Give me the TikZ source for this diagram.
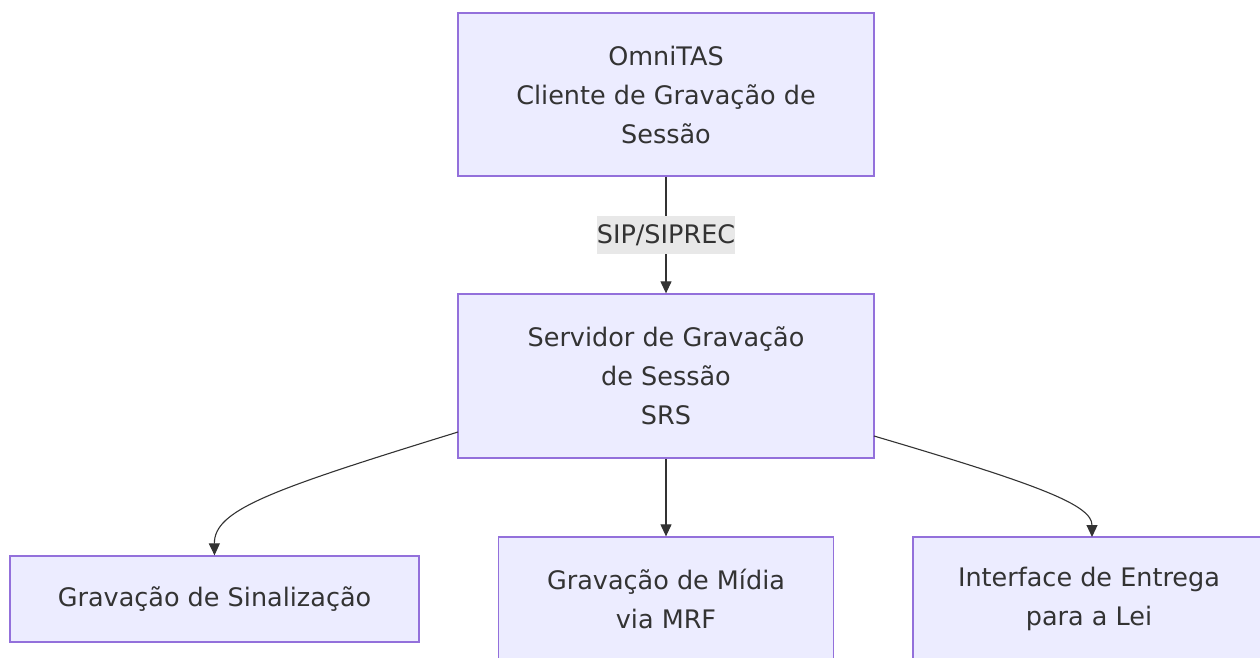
\documentclass[tikz,border=0pt]{standalone}
\usepackage{fontspec}
\setmainfont{DejaVu Sans}
\usetikzlibrary{arrows.meta}
\definecolor{boxfill}{HTML}{ECECFF}
\definecolor{boxline}{HTML}{9370DB}
\definecolor{txt}{HTML}{333333}
\definecolor{lblbg}{HTML}{E8E8E8}
\begin{document}
\begin{tikzpicture}[x=1pt,y=-1pt,
  procbox/.style={draw=boxline,fill=boxfill,line width=1.3pt,inner sep=0pt,text=txt,align=center,
    font=\fontsize{25.5}{39}\selectfont},
  conn/.style={draw=txt,line width=1.1pt,-{Triangle[length=12pt,width=11pt]}},
  lbl/.style={fill=lblbg,text=txt,font=\fontsize{25.5}{30}\selectfont,inner sep=0pt,minimum width=138pt,minimum height=38pt}]
\useasboundingbox (0,0) rectangle (1260,657);
\node[procbox,minimum width=416pt,minimum height=163pt] (client) at (666,94.5) {OmniTAS\\Cliente de Gravação de\\Sessão};
\node[procbox,minimum width=416pt,minimum height=164pt] (srs) at (666,376) {Servidor de Gravação\\de Sessão\\SRS};
\node[procbox,minimum width=409pt,minimum height=86pt] (sinal) at (214.5,599) {Gravação de Sinalização};
\node[procbox,minimum width=335pt,minimum height=124pt] (midia) at (666,599) {Gravação de Mídia\\via MRF};
\node[procbox,minimum width=352pt,minimum height=124pt] (lei) at (1089,599) {Interface de Entrega\\para a Lei};
\draw[conn] (client.south) -- (srs.north);
\node[lbl] (sip) at (666,235) {SIP/SIPREC};
\draw[conn] (srs.south) -- (midia.north);
\coordinate (srsl) at (458,432);
\coordinate (srsr) at (874,436);
\draw[conn] (srsl) .. controls (270,490) and (214,510) .. (sinal.north);
\draw[conn] (srsr) .. controls (1040,485) and (1092,505) .. (1092,537) coordinate (leitop);
\end{tikzpicture}
\end{document}
